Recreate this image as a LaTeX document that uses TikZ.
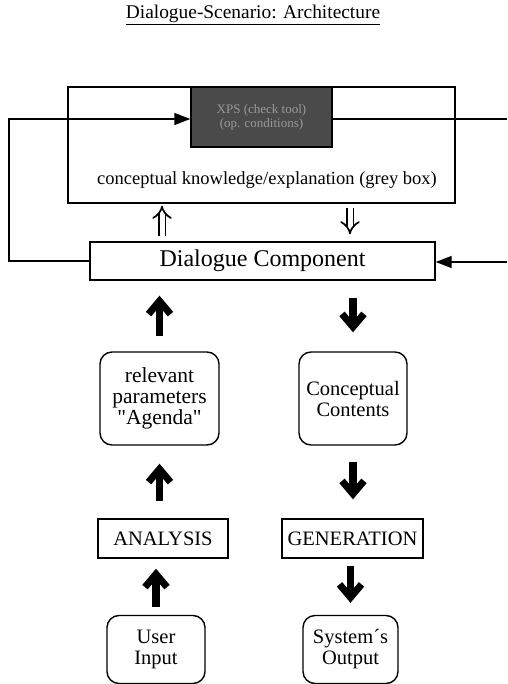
\documentclass[tikz,border=0pt]{standalone}
\usepackage{fontspec}
\setmainfont{Liberation Serif}
\newfontfamily\rawserif{Liberation Serif}
\usetikzlibrary{arrows.meta}
\definecolor{greyfill}{HTML}{4A4A4A}
\definecolor{greytext}{HTML}{9A9A9A}
\tikzset{
  box/.style={draw, line width=1.4pt, inner sep=0pt, align=center},
  roundbox/.style={box, rounded corners=12pt},
  fb/.style={line width=1.4pt},
  fbarrow/.style={fb, -{Triangle[length=16pt,width=12pt]}},
  bigarrow/.style={line width=7.5pt, -{Straight Barb[length=13pt,width=22pt,line width=7pt,line join=miter]}},
  dblarrow/.style={double, double distance=5pt, line width=1.7pt, -{Implies[length=8pt,width=17pt]}},
  f20/.style={font=\fontsize{20.5}{21}\selectfont},
}
\begin{document}
\begin{tikzpicture}[x=1pt,y=-1pt]
\useasboundingbox (0,0) rectangle (507,684);
\node[font=\fontsize{19.4}{22}\selectfont] (title) at (253,15) {\underline{Dialogue-Scenario: Architecture}};
% outer knowledge box
\node[box, minimum width=387pt, minimum height=116pt] (outer) at (261.5,145) {};
\node[box, fill=greyfill, minimum width=141pt, minimum height=60pt, text=greytext,
      font=\fontsize{13}{14}\selectfont] (grey) at (261.5,117) {XPS (check tool)\\(op. conditions)};
\node[font=\fontsize{18.5}{20}\selectfont] (label) at (267,180) {conceptual knowledge/explanation (grey box)};
% dialogue component
\node[box, minimum width=345pt, minimum height=38pt, font=\fontsize{24}{26}\selectfont] (dialog) at (262.5,261) {Dialogue Component};
% left column
\node[roundbox, font=\fontsize{21.5}{21}\selectfont, minimum width=119pt, minimum height=93pt] (agenda) at (159.5,398.5) {relevant\\parameters\\{\rawserif"Agenda"}};
\node[box, f20, minimum width=130pt, minimum height=39pt] (analysis) at (163,538.5) {ANALYSIS};
\node[roundbox, f20, minimum width=98pt, minimum height=68pt] (user) at (156,649.5) {User\\Input};
% right column
\node[roundbox, f20, minimum width=108pt, minimum height=93pt] (contents) at (353,398.5) {Conceptual\\Contents};
\node[box, f20, minimum width=141pt, minimum height=39pt] (generation) at (352.5,538.5) {GENERATION};
\node[roundbox, f20, minimum width=95pt, minimum height=68pt] (sysout) at (350.5,649.5) {System´s\\Output};
% double arrows
\draw[dblarrow, shorten <=5pt, shorten >=2pt] (dialog.north -| 162,0) -- (outer.south -| 162,0);
\draw[dblarrow, shorten <=4pt, shorten >=7pt] (outer.south -| 350,0) -- (dialog.north -| 350,0);
% bold arrows
\draw[bigarrow, shorten <=15pt, shorten >=15pt] (agenda.north) -- (agenda.north |- dialog.south);
\draw[bigarrow, shorten <=17pt, shorten >=19pt] (contents.north |- dialog.south) -- (contents.north);
\draw[bigarrow, shorten <=17pt, shorten >=18pt] (agenda.south |- analysis.north) -- (agenda.south);
\draw[bigarrow, shorten <=16pt, shorten >=19pt] (contents.south) -- (contents.south |- generation.north);
\draw[bigarrow, shorten <=8pt, shorten >=10pt] (user.north) -- (user.north |- analysis.south);
\draw[bigarrow, shorten <=7pt, shorten >=12pt] (sysout.north |- generation.south) -- (sysout.north);
% feedback lines
\coordinate (L) at (9,119);
\coordinate (R1) at (507,119);
\coordinate (R2) at (507,262);
\draw[fbarrow] (dialog.west) -| (L) -- (grey.west |- L);
\draw[fb] (grey.east |- R1) -- (R1);
\draw[fbarrow] (R2) -- (dialog.east |- R2);
\end{tikzpicture}
\end{document}
